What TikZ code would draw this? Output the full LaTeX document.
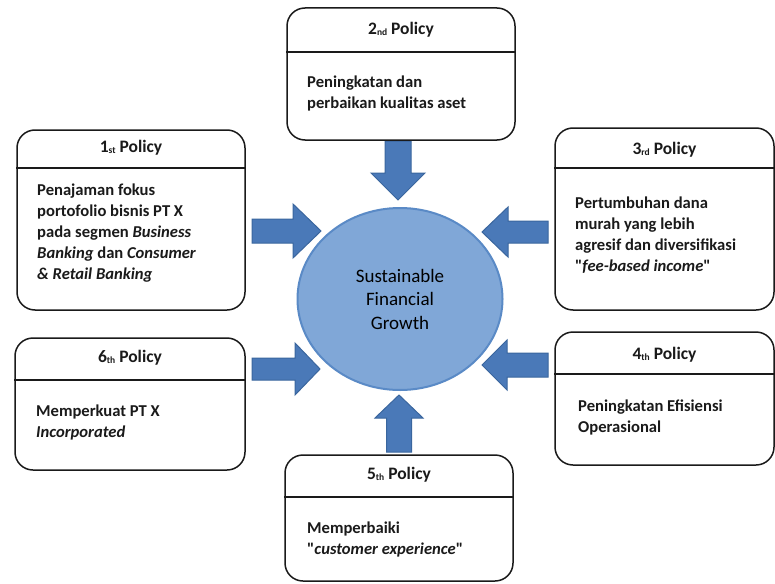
\documentclass[tikz,border=0pt]{standalone}
\usepackage{fontspec}
\setmainfont{Carlito}
\usetikzlibrary{shapes.geometric}
\definecolor{inkline}{HTML}{1A1A1A}
\definecolor{goalfill}{HTML}{80A7D7}
\definecolor{goaledge}{HTML}{5A8AC6}
\definecolor{arrowfill}{HTML}{4A79B8}
\definecolor{arrowedge}{HTML}{3A669E}
\newcommand\ordsuf[1]{\raisebox{-0.6pt}{\fontsize{9.5}{9.5}\selectfont #1}}
% straight double quote, set as a glyph so no ligature mapping turns it curly
\newcommand\dq{\XeTeXglyph\XeTeXcharglyph"0022\relax}
\begin{document}
\begin{tikzpicture}[x=1pt,y=-1pt,
  policybox/.style={draw=inkline,line width=1.5pt,rounded corners=18pt,inner sep=0pt},
  divider/.style={draw=inkline,line width=1.5pt},
  titletext/.style={font=\bfseries\fontsize{17.5}{20}\selectfont,text=inkline,inner sep=0pt},
  bodytext/.style={font=\bfseries\fontsize{16.6}{21}\selectfont,text=inkline,inner sep=0pt,align=left,anchor=north west},
  goalnode/.style={ellipse,fill=goalfill,draw=goaledge,line width=2pt,inner sep=0pt,
    align=center,font=\fontsize{19}{23.5}\selectfont,text=black},
  arrowbody/.style={fill=arrowfill,draw=arrowedge,line width=1pt,line join=miter},
  pics/blockarrow/.style n args={4}{code={
    \filldraw[arrowbody] (0,-#4) -- ({#1-#2},-#4) -- ({#1-#2},-#3) -- (#1,0)
      -- ({#1-#2},#3) -- ({#1-#2},#4) -- (0,#4) -- cycle;}}]
\useasboundingbox (0,0) rectangle (775,583);
\fill[white] (0,0) rectangle (775,583);

% central goal
\node[goalnode,minimum width=205pt,minimum height=182pt] (goal) at (400,299)
  {Sustainable\\Financial\\Growth};

% block arrows pointing at the goal
\pic at (398,141) [rotate=-90] {blockarrow={59}{27}{27}{13}};
\pic at (252,231) {blockarrow={69}{28}{27}{12}};
\pic at (548,232) [rotate=180] {blockarrow={66}{26}{25}{11}};
\pic at (252,369) {blockarrow={68}{25}{26}{11}};
\pic at (548,365) [rotate=180] {blockarrow={66}{25}{25}{12}};
\pic at (399,452) [rotate=90] {blockarrow={57}{23}{24}{12.5}};

% policy boxes
\node[policybox,minimum width=228pt,minimum height=132pt] (p2) at (401,74) {};
\draw[divider] (p2.west |- 0,52) -- (p2.east |- 0,52);
\node[titletext] (p2t) at (401,30) {2\ordsuf{nd} Policy};
\node[bodytext] (p2b) at (307,76) {Peningkatan dan\\perbaikan kualitas aset};

\node[policybox,minimum width=228pt,minimum height=180pt] (p1) at (131,220) {};
\draw[divider] (p1.west |- 0,168) -- (p1.east |- 0,168);
\node[titletext] (p1t) at (131,148) {1\ordsuf{st} Policy};
\node[bodytext] (p1b) at (37,184) {Penajaman fokus\\portofolio bisnis PT X\\pada segmen \textit{Business}\\\textit{Banking} dan \textit{Consumer}\\\textit{\& Retail Banking}};

\node[policybox,minimum width=219pt,minimum height=182pt] (p3) at (664.5,219) {};
\draw[divider] (p3.west |- 0,168) -- (p3.east |- 0,168);
\node[titletext] (p3t) at (664.5,150) {3\ordsuf{rd} Policy};
\node[bodytext] (p3b) at (575,197) {Pertumbuhan dana\\murah yang lebih\\agresif dan diversifikasi\\\dq\textit{fee-based income}\dq};

\node[policybox,minimum width=230pt,minimum height=132pt] (p6) at (130,404) {};
\draw[divider] (p6.west |- 0,380) -- (p6.east |- 0,380);
\node[titletext] (p6t) at (130,358) {6\ordsuf{th} Policy};
\node[bodytext] (p6b) at (36,405) {Memperkuat PT X\\\textit{Incorporated}};

\node[policybox,minimum width=219pt,minimum height=133pt] (p4) at (664.5,398.5) {};
\draw[divider] (p4.west |- 0,374) -- (p4.east |- 0,374);
\node[titletext] (p4t) at (664.5,355) {4\ordsuf{th} Policy};
\node[bodytext] (p4b) at (578,400) {Peningkatan Efisiensi\\Operasional};

\node[policybox,minimum width=228pt,minimum height=126pt] (p5) at (399,518) {};
\draw[divider] (p5.west |- 0,497) -- (p5.east |- 0,497);
\node[titletext] (p5t) at (399,475) {5\ordsuf{th} Policy};
\node[bodytext] (p5b) at (307,522) {Memperbaiki\\\dq\textit{customer experience}\dq};
\end{tikzpicture}
\end{document}
